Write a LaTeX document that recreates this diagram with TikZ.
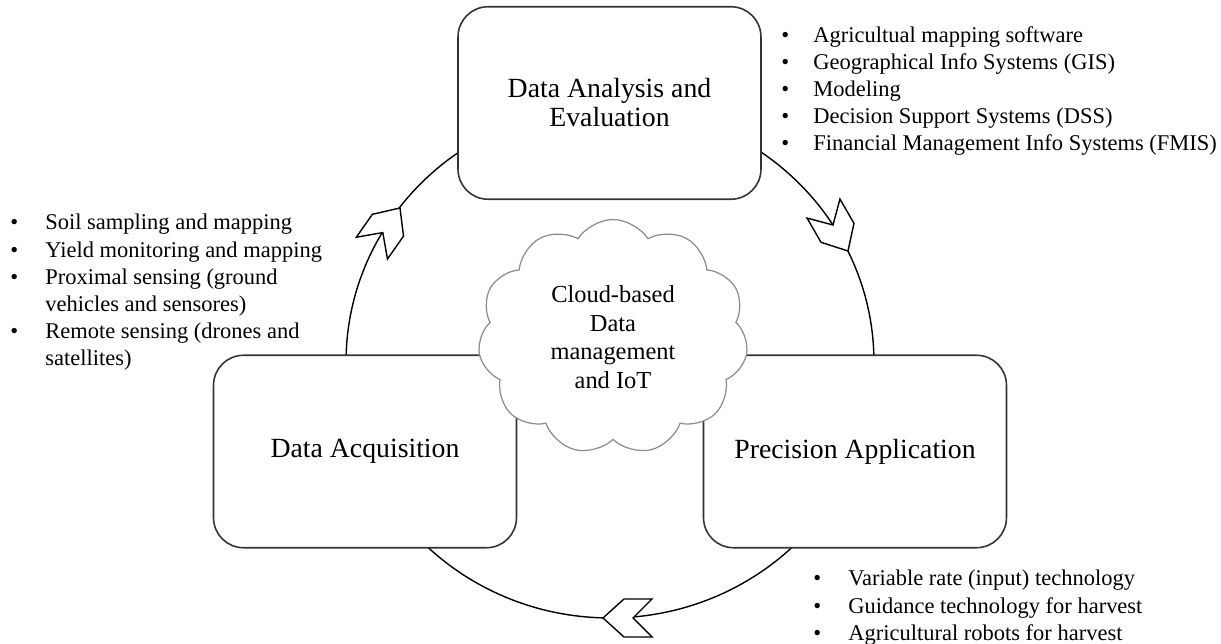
\documentclass[tikz,border=0pt]{standalone}
\usepackage{fontspec}
\setmainfont{Liberation Serif}
\usetikzlibrary{shapes.symbols}
\newcommand\bulletbox[1]{\makebox[#1][l]{\textbullet}}
\begin{document}
\begin{tikzpicture}[x=0.02cm,y=-0.02cm,
  stage/.style={draw=black!80, line width=0.9pt, fill=white, rounded corners=0.6cm,
    minimum width=6.06cm, minimum height=3.85cm, align=center, inner sep=0pt,
    font=\fontsize{15.8}{16.5}\selectfont},
  cyclepath/.style={draw=black, line width=0.8pt},
  chevron/.style={draw=black, line width=0.8pt, fill=white, line join=miter},
  bulletlist/.style={align=left, inner sep=0pt, anchor=north west,
    font=\fontsize{12.8}{15.4}\selectfont},
  cloudnode/.style={cloud, cloud puffs=11, cloud puff arc=115, aspect=1.15,
    draw=black!45, line width=0.7pt, fill=white, minimum width=5.4cm,
    minimum height=4.7cm, align=center, inner sep=0pt,
    font=\fontsize{13.9}{16.3}\selectfont},
  chev/.pic={\path[chevron] (0,0) -- (-21,19) -- (-49,19) -- (-30,0) -- (-49,-19) -- (-21,-19) -- cycle;}
]
\useasboundingbox (0,0) rectangle (1221,644);
\coordinate (cyc) at (610,362);
\path[cyclepath] (cyc) ellipse [x radius=5.28cm, y radius=5.12cm];
\pic[rotate=55] at (400,208) {chev};
\pic[rotate=-60] at (848,251) {chev};
\pic[rotate=180] at (603,618) {chev};
\node[stage] (eval) at (609.5,103) {Data Analysis and\\Evaluation};
\node[stage] (acq) at (365,451.5) {Data Acquisition};
\node[stage] (app) at (855,451.5) {Precision Application};
\node[cloudnode] (cloudiot) at (613,337) {Cloud-based\\Data\\management\\and IoT};
\node[bulletlist] (evallist) at (781,26) {%
\bulletbox{0.64cm}Agricultual mapping software\\
\bulletbox{0.64cm}Geographical Info Systems (GIS)\\
\bulletbox{0.64cm}Modeling\\
\bulletbox{0.64cm}Decision Support Systems (DSS)\\
\bulletbox{0.64cm}Financial Management Info Systems (FMIS)};
\node[bulletlist] (acqlist) at (10,214) {%
\bulletbox{0.7cm}Soil sampling and mapping\\
\bulletbox{0.7cm}Yield monitoring and mapping\\
\bulletbox{0.7cm}Proximal sensing (ground\\
\hspace*{0.7cm}vehicles and sensores)\\
\bulletbox{0.7cm}Remote sensing (drones and\\
\hspace*{0.7cm}satellites)};
\node[bulletlist] (applist) at (813,570) {%
\bulletbox{0.7cm}Variable rate (input) technology\\
\bulletbox{0.7cm}Guidance technology for harvest\\
\bulletbox{0.7cm}Agricultural robots for harvest};
\end{tikzpicture}
\end{document}
